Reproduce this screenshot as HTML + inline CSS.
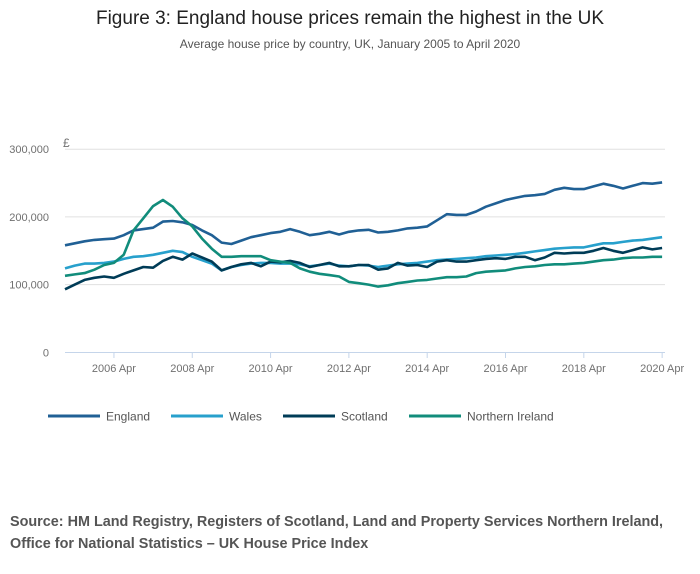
<!DOCTYPE html>
<html><head><meta charset="utf-8"><style>
body{margin:0;width:700px;height:574px;background:#fff;font-family:"Liberation Sans",sans-serif;overflow:hidden}
</style></head><body>
<svg width="700" height="574" style="position:absolute;left:0;top:0">
<text x="350" y="24" text-anchor="middle" font-size="19" fill="#222">Figure 3: England house prices remain the highest in the UK</text>
<text x="350" y="48" text-anchor="middle" font-size="12" fill="#555">Average house price by country, UK, January 2005 to April 2020</text>
<g id="grid"></g><g id="axes"></g><g id="series"></g><g id="legend"></g>
<text x="10" y="526" font-size="14.4" font-weight="bold" fill="#555">Source: HM Land Registry, Registers of Scotland, Land and Property Services Northern Ireland,</text>
<text x="10" y="548" font-size="14.4" font-weight="bold" fill="#555">Office for National Statistics – UK House Price Index</text>
</svg>
<script>
const yTicks=[0,100000,200000,300000];
const yTickLabels=["0","100,000","200,000","300,000"];
const xTickYears=[2006,2008,2010,2012,2014,2016,2018,2020];
const xTickLabels=["2006 Apr","2008 Apr","2010 Apr","2012 Apr","2014 Apr","2016 Apr","2018 Apr","2020 Apr"];
const seriesNames=["England","Wales","Scotland","Northern Ireland"];
// quarterly values (thousand £), Jan/Apr/Jul/Oct from Jan 2005 to Apr 2020
const england=[158,161,164,166,167,168,173,180,182,184,193,194,192,188,180,173,162,160,165,170,173,176,178,182,178,173,175,178,174,178,180,181,177,178,180,183,184,186,195,204,203,203,208,215,220,225,228,231,232,234,240,243,241,241,245,249,246,242,246,250,249,251];
const wales=[124,128,131,131,132,134,138,141,142,144,147,150,148,141,136,131,121,126,129,131,132,132,131,131,130,127,129,131,128,127,129,128,126,128,130,131,132,134,136,137,138,139,140,142,143,144,145,147,149,151,153,154,155,155,158,161,161,163,165,166,168,170];
const scotland=[93,100,107,110,112,110,116,121,126,125,135,141,137,146,140,134,121,126,130,132,127,134,133,135,132,126,129,132,127,127,129,129,122,124,132,128,129,126,134,136,134,134,136,138,139,138,141,141,136,140,147,146,147,147,150,154,150,147,151,155,152,154];
const northernIreland=[113,115,117,122,129,132,144,180,198,216,225,215,198,186,168,153,141,141,142,142,142,136,134,132,124,119,116,114,112,104,102,100,97,99,102,104,106,107,109,111,111,112,117,119,120,121,124,126,127,129,130,130,131,132,134,136,137,139,140,140,141,141];
const allSeries=[england,wales,scotland,northernIreland];
const colors=["#206095","#27a0cc","#003c57","#118c7b"];
const NS="http://www.w3.org/2000/svg";
const X0=65,PXM=3.263,Y0=352.3,PXV=0.000677;
const xm=m=>X0+m*PXM;
const y=v=>Y0-v*PXV;
function el(t,a,p){const e=document.createElementNS(NS,t);for(const k in a)e.setAttribute(k,a[k]);p.appendChild(e);return e;}
const grid=document.getElementById('grid'),axes=document.getElementById('axes'),ser=document.getElementById('series'),leg=document.getElementById('legend');
yTicks.forEach((v,i)=>{
 if(v>0){const l=el('line',{x1:65,x2:665,y1:y(v),y2:y(v),stroke:'#e0e0e0','stroke-width':1},grid);
 
 }
 const t=el('text',{x:49,y:y(v)+4,'text-anchor':'end','font-size':11,fill:'#707070'},axes);t.textContent=yTickLabels[i];
 
 
});
const pound=el('text',{x:63,y:147,'font-size':12,fill:'#707070'},axes);pound.textContent='£';


const base=el('line',{x1:65,x2:665,y1:352.5,y2:352.5,stroke:'#c5d5ea','stroke-width':1},axes);


xTickYears.forEach((yr,i)=>{
 const x=xm((yr-2005)*12+3);
 el('line',{x1:x,x2:x,y1:352,y2:358,stroke:'#c5d5ea'},axes);
 const t=el('text',{x:x,y:372,'text-anchor':'middle','font-size':11,fill:'#707070'},axes);t.textContent=xTickLabels[i];
 
 
});
allSeries.forEach((d,s)=>{
 const pts=d.map((v,i)=>xm(i*3).toFixed(1)+','+y(v*1000).toFixed(1)).join(' ');
 const p=el('polyline',{points:pts,fill:'none',stroke:colors[s],'stroke-width':2.6,'stroke-linejoin':'round'},ser);
 
 
});
const lx=[48,171,283,409];
seriesNames.forEach((n,i)=>{
 const g=el('g',{},leg);
 
 
 el('line',{x1:lx[i],x2:lx[i]+52,y1:416,y2:416,stroke:colors[i],'stroke-width':3},g);
 const t=el('text',{x:lx[i]+58,y:420.5,'font-size':12,fill:'#555'},g);t.textContent=n;
});
</script>
</body></html>
